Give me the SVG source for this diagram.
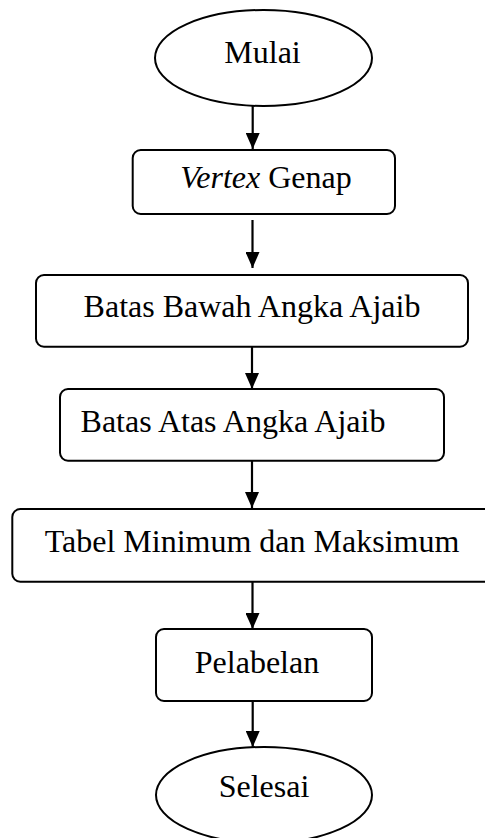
<svg xmlns="http://www.w3.org/2000/svg" width="485" height="838" viewBox="0 0 485 838">
<defs>
<style>
.n{fill:#fff;stroke:#000;stroke-width:2}
.t{font-family:"Liberation Serif","Times New Roman",serif;font-size:32px;fill:#000;text-anchor:middle}
.c{stroke:#000;stroke-width:2.2;fill:none}
</style>
<marker id="ah" markerWidth="16" markerHeight="14" refX="16" refY="7" orient="auto" markerUnits="userSpaceOnUse">
<path d="M0,0 L16,7 L0,14 Z" fill="#000"/>
</marker>
</defs>
<rect width="485" height="838" fill="#fff"/>
<g id="connectors">
<line class="c" x1="252.7" y1="106" x2="252.7" y2="149" marker-end="url(#ah)"/>
<line class="c" x1="252.5" y1="220" x2="252.5" y2="268" marker-end="url(#ah)"/>
<line class="c" x1="252" y1="341" x2="252" y2="389" marker-end="url(#ah)"/>
<line class="c" x1="252" y1="460" x2="252" y2="508" marker-end="url(#ah)"/>
<line class="c" x1="252.5" y1="581" x2="252.5" y2="629" marker-end="url(#ah)"/>
<line class="c" x1="252.7" y1="701" x2="252.7" y2="747" marker-end="url(#ah)"/>
</g>
<g id="mulai">
<ellipse class="n" cx="263.5" cy="58" rx="108.5" ry="48"/>
<text class="t" x="262.5" y="62.7">Mulai</text>
</g>
<g id="vertex-genap">
<rect class="n" x="132.7" y="150" width="262.3" height="64" rx="8"/>
<text class="t" x="266" y="187.7"><tspan font-style="italic">Vertex</tspan> Genap</text>
</g>
<g id="batas-bawah">
<rect class="n" x="36" y="275" width="432" height="71.7" rx="8"/>
<text class="t" x="252" y="316.7">Batas Bawah Angka Ajaib</text>
</g>
<g id="batas-atas">
<rect class="n" x="60" y="389" width="384" height="71.7" rx="8"/>
<text class="t" x="233" y="431.7">Batas Atas Angka Ajaib</text>
</g>
<g id="tabel">
<rect class="n" x="12.3" y="509" width="490" height="72.7" rx="8"/>
<text class="t" x="252" y="551.7">Tabel Minimum dan Maksimum</text>
</g>
<g id="pelabelan">
<rect class="n" x="156" y="629" width="216" height="72" rx="8"/>
<text class="t" x="257" y="672.7">Pelabelan</text>
</g>
<g id="selesai">
<ellipse class="n" cx="264" cy="795" rx="108" ry="48"/>
<text class="t" x="264" y="797.3">Selesai</text>
</g>
</svg>
